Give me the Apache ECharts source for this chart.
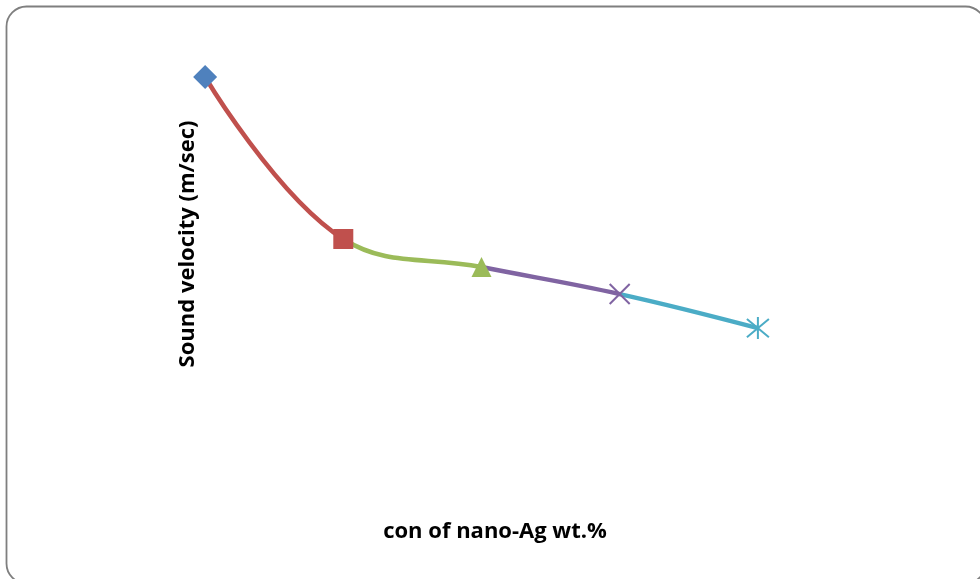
<!DOCTYPE html>
<html>
<head>
<meta charset="utf-8">
<script src="https://cdn.jsdelivr.net/npm/echarts@6/dist/echarts.min.js"></script>
<style>
  html, body { margin: 0; padding: 0; background: #fff; }
  #chart { width: 980px; height: 579px; }
</style>
</head>
<body>
<div id="chart"></div>
<script>
// Concentration of nano-Ag (wt.%) and measured sound velocity (m/sec)
const concentrations = ['0', '0.2', '0.4', '0.6', '0.8'];
const soundVelocity = [1560, 1500, 1489.6, 1479.6, 1467];

// Excel-like palette, one colour per point
const pointColors = ['#4F81BD', '#C0504D', '#9BBB59', '#8064A2', '#4BACC6'];
const pointSymbols = [
  'diamond',
  'rect',
  'triangle',
  'path://M0,0 L20,20 M20,0 L0,20',
  'path://M0,0 L20,20 M20,0 L0,20 M10,-2 L10,22'
];
const pointSizes = [24, 20, 20, 20, 22];

const chart = echarts.init(document.getElementById('chart'));

// Each segment takes the colour of the point it ends at
const pieces = [];
for (let i = 1; i < concentrations.length; i++) {
  pieces.push({ gt: i - 1, lte: i, color: pointColors[i] });
}

const markerData = soundVelocity.map((v, i) => {
  const open = i >= 3;
  return {
    value: [concentrations[i], v],
    symbol: pointSymbols[i],
    symbolSize: pointSizes[i],
    itemStyle: open
      ? { color: 'transparent', borderColor: pointColors[i], borderWidth: 2, opacity: 1 }
      : { color: pointColors[i], borderColor: pointColors[i], borderWidth: 0, opacity: 1 }
  };
});

chart.setOption({
  animation: false,
  grid: { left: 136, top: 23, width: 691, height: 432 },
  xAxis: {
    type: 'category',
    data: concentrations,
    boundaryGap: true,
    show: false
  },
  yAxis: {
    type: 'value',
    min: 1420,
    max: 1580,
    show: false
  },
  visualMap: {
    show: false,
    type: 'piecewise',
    dimension: 0,
    seriesIndex: 0,
    pieces: pieces
  },
  series: [
    {
      type: 'line',
      data: soundVelocity,
      smooth: 0.4,
      showSymbol: false,
      lineStyle: { width: 4.5 },
      z: 2
    },
    {
      type: 'scatter',
      data: markerData,
      itemStyle: { opacity: 1 },
      z: 3
    }
  ],
  graphic: [
    {
      type: 'rect',
      shape: { x: 6.5, y: 6.5, width: 979, height: 577, r: 20 },
      style: { fill: 'none', stroke: '#7f7f7f', lineWidth: 1.8 },
      silent: true
    },
    {
      type: 'text',
      x: 188,
      y: 244,
      rotation: Math.PI / 2,
      style: {
        text: 'Sound velocity (m/sec)',
        font: 'bold 22px "Open Sans", "Noto Sans", sans-serif',
        fill: '#000',
        align: 'center',
        verticalAlign: 'middle'
      }
    },
    {
      type: 'text',
      x: 495,
      y: 532,
      style: {
        text: 'con of nano-Ag wt.%',
        font: 'bold 22px "Open Sans", "Noto Sans", sans-serif',
        fill: '#000',
        align: 'center',
        verticalAlign: 'middle'
      }
    }
  ]
});
</script>
</body>
</html>
